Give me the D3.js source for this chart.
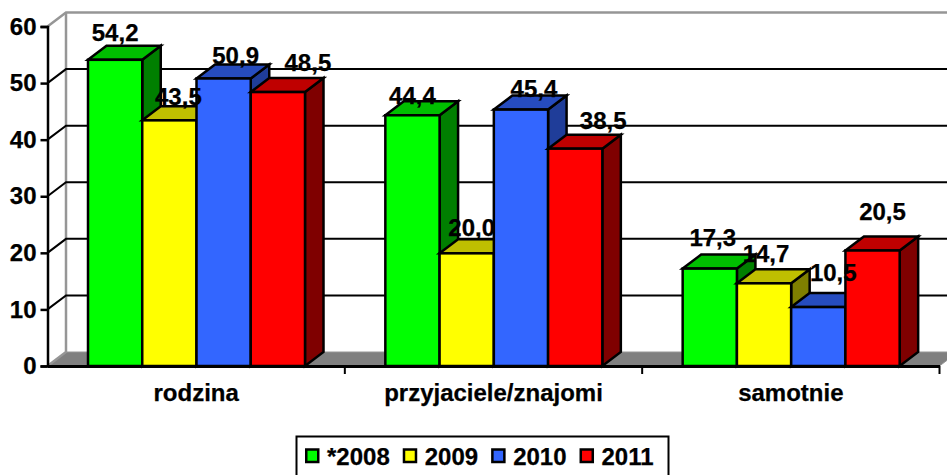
<!DOCTYPE html>
<html><head><meta charset="utf-8">
<script src="https://cdn.jsdelivr.net/npm/d3@7/dist/d3.min.js"></script>
<style>html,body{margin:0;padding:0;background:#fff;overflow:hidden}svg{display:block}text{font-family:"Liberation Sans",Arial,sans-serif;font-weight:bold;fill:#000;stroke:#000;stroke-width:.25px}</style>
</head><body><svg id="c" width="947" height="475"></svg>
<script>
const categories = ["rodzina", "przyjaciele/znajomi", "samotnie"];
const seriesNames = ["*2008", "2009", "2010", "2011"];
const v2008 = [54.2, 44.4, 17.3];
const v2009 = [43.5, 20.0, 14.7];
const v2010 = [50.9, 45.4, 10.5];
const v2011 = [48.5, 38.5, 20.5];
const yTicks = [0, 10, 20, 30, 40, 50, 60];

const seriesValues = [v2008, v2009, v2010, v2011];
const faces = [
  {front: "#00ff00", top: "#00bf00", side: "#007f00"},
  {front: "#ffff00", top: "#bfbf00", side: "#7f7f00"},
  {front: "#3366ff", top: "#264cbf", side: "#1f3d99"},
  {front: "#ff0000", top: "#bf0000", side: "#7f0000"}
];
// hand-placed data labels in the original: offset from each bar's top centre [series][category]
const labelNudge = [
  [[0,-18],[0,-11],[3,-22]],
  [[9,-15],[5,-17],[2,-21]],
  [[12,-14],[13,-12],[15,-26]],
  [[30,-21],[28,-19],[10,-30]]
];

const svg = d3.select("#c");
const dx = 18.5, dy = 14;
const x0 = d3.scaleBand().domain(categories).range([47.5, 939.5]);
const x1 = d3.scaleBand().domain(d3.range(4)).range([40.5, 257.5]);
const y = d3.scaleLinear().domain([0, 60]).range([366, 26.5]);
const poly = pts => pts.map(p => p.join(",")).join(" ");

// floor
svg.append("polygon")
  .attr("points", poly([[x0.range()[0], y(0)], [x0.range()[0]+dx, y(0)-dy], [x0.range()[1]+dx, y(0)-dy], [x0.range()[1], y(0)]]))
  .attr("fill", "#808080").attr("stroke", "#969696").attr("stroke-width", 1);

// back wall frame
const wall = svg.append("g").attr("fill", "none").attr("stroke", "#969696").attr("stroke-width", 2.5);
wall.append("path").attr("d", d3.line()([[x0.range()[0], y(60)], [x0.range()[0]+dx, y(60)-dy], [x0.range()[1]+dx, y(60)-dy]]));
wall.append("path").attr("d", d3.line()([[x0.range()[0]+dx, y(60)-dy], [x0.range()[0]+dx, y(0)-dy], [x0.range()[0], y(0)]]));

// gridlines on wall
const grid = svg.append("g").attr("fill", "none").attr("stroke", "#000").attr("stroke-width", 2);
yTicks.filter(t => t > 0 && t < 60).forEach(t => {
  grid.append("path").attr("d", d3.line()([[x0.range()[0], y(t)], [x0.range()[0]+dx, y(t)-dy], [x0.range()[1]+dx, y(t)-dy]]));
});

// bars
const bars = svg.append("g").attr("stroke", "#000").attr("stroke-width", 2.5).attr("stroke-linejoin", "miter");
categories.forEach((c, ci) => {
  seriesValues.forEach((vals, si) => {
    const l = x0(c) + x1(si), w = x1.bandwidth(), r = l + w, t = y(vals[ci]) + 0.5, b = y(0);
    const g = bars.append("g");
    g.append("polygon").attr("fill", faces[si].side).attr("points", poly([[r,t],[r+dx,t-dy],[r+dx,b-dy],[r,b]]));
    g.append("polygon").attr("fill", faces[si].top).attr("points", poly([[l,t],[l+dx,t-dy],[r+dx,t-dy],[r,t]]));
    g.append("rect").attr("fill", faces[si].front).attr("x", l).attr("y", t).attr("width", w).attr("height", b - t);
  });
});

// axes
const yAxis = svg.append("g").attr("transform", `translate(${x0.range()[0]},0)`)
  .call(d3.axisLeft(y).tickValues(yTicks).tickSize(7).tickPadding(4).tickFormat(d3.format("d")));
yAxis.selectAll("path,line").attr("stroke", "#000").attr("stroke-width", 2.5);
yAxis.selectAll("text").style("font-size", "24px").style("font-family", '"Liberation Sans"');

const xAxis = svg.append("g").attr("transform", `translate(0,${y(0)})`)
  .call(d3.axisBottom(x0).tickSize(0).tickPadding(18));
xAxis.selectAll("text").style("font-size", "24px").style("font-family", '"Liberation Sans"');
xAxis.select("path").attr("stroke", "#000").attr("stroke-width", 3);
[0, 1, 2].forEach(i => {
  const px = i < 2 ? x0(categories[i + 1]) : x0.range()[1];
  xAxis.append("line").attr("x1", px).attr("x2", px).attr("y1", 0).attr("y2", 8).attr("stroke", "#000").attr("stroke-width", 2);
});

// data labels
const lab = svg.append("g").attr("font-size", 24).attr("text-anchor", "middle");
categories.forEach((c, ci) => {
  seriesValues.forEach((vals, si) => {
    lab.append("text")
      .attr("x", x0(c) + x1(si) + x1.bandwidth() / 2 + labelNudge[si][ci][0])
      .attr("y", y(vals[ci]) + labelNudge[si][ci][1])
      .text(d3.format(".1f")(vals[ci]).replace(".", ","));
  });
});

// legend: entries flow one after another by measured text width
const leg = svg.append("g");
leg.append("rect").attr("x", 296.5).attr("y", 436.5).attr("width", 372).attr("height", 50)
  .attr("fill", "#fff").attr("stroke", "#000").attr("stroke-width", 2);
let cursor = 305;
seriesNames.forEach((n, i) => {
  leg.append("rect").attr("x", cursor + 1.25).attr("y", 449.5).attr("width", 12).attr("height", 12.5)
    .attr("fill", faces[i].front).attr("stroke", "#000").attr("stroke-width", 2.5);
  const t = leg.append("text").attr("x", cursor + 22).attr("y", 465).attr("font-size", 24).text(n);
  cursor += 22 + t.node().getComputedTextLength() + 13;
});
</script></body></html>
